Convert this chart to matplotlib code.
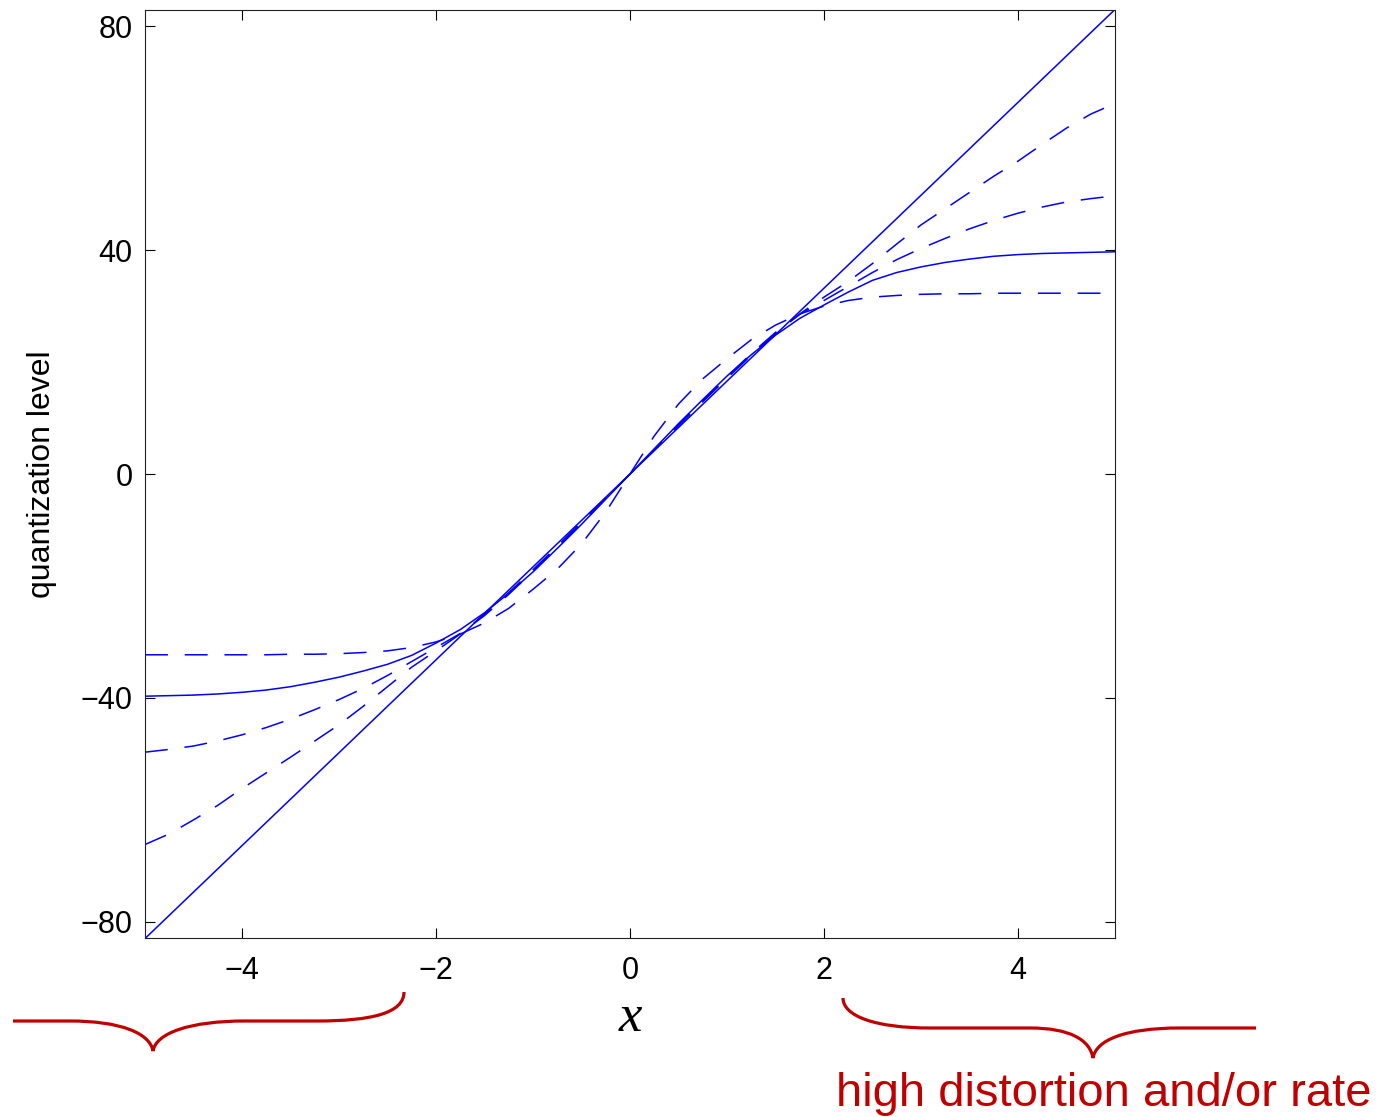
import numpy as np
import matplotlib.pyplot as plt
from matplotlib.path import Path
from matplotlib.patches import PathPatch

plt.rcParams['font.family'] = ['Liberation Sans', 'DejaVu Sans']

# --- 数据：量化电平曲线 ---
x_grid = [-5.0, -4.75, -4.5, -4.25, -4.0, -3.75, -3.5, -3.25, -3.0, -2.75,
          -2.5, -2.25, -2.0, -1.75, -1.5, -1.25, -1.0, -0.75, -0.5, -0.25,
          0.0, 0.25, 0.5, 0.75, 1.0, 1.25, 1.5, 1.75, 2.0, 2.25,
          2.5, 2.75, 3.0, 3.25, 3.5, 3.75, 4.0, 4.25, 4.5, 4.75, 5.0]

# 直线 (均匀量化)
line_x = [-5.0, 5.0]
line_y = [-83.0, 83.0]

# 虚线，饱和于 ~66
level_66 = [-66.2, -64.3, -61.8, -59.2, -56.2, -53.4, -50.6, -47.7, -44.8, -41.5,
            -38.0, -34.5, -31.6, -28.6, -25.1, -21.2, -17.1, -12.9, -8.6, -4.3,
            0.0, 4.3, 8.6, 12.9, 17.1, 21.2, 25.1, 28.6, 31.6, 34.4,
            37.6, 41.1, 44.5, 47.4, 50.3, 53.2, 55.9, 58.9, 61.8, 64.3, 66.2]

# 虚线，饱和于 ~50
level_50 = [-49.7, -49.2, -48.6, -47.7, -46.6, -45.3, -43.8, -42.1, -40.3, -38.3,
            -36.0, -33.5, -31.0, -28.5, -25.3, -21.5, -17.4, -13.1, -8.8, -4.4,
            0.0, 4.4, 8.8, 13.1, 17.4, 21.5, 25.3, 28.5, 31.0, 33.5,
            36.0, 38.3, 40.3, 42.1, 43.8, 45.3, 46.6, 47.7, 48.6, 49.2, 49.7]

# 实线，饱和于 ~40
level_40 = [-39.7, -39.6, -39.5, -39.3, -39.0, -38.6, -38.0, -37.2, -36.3, -35.2,
            -34.0, -32.4, -30.2, -27.8, -24.8, -21.3, -17.5, -13.3, -9.0, -4.5,
            0.0, 4.5, 9.0, 13.3, 17.5, 21.3, 24.8, 27.8, 30.2, 32.5,
            34.6, 36.0, 37.0, 37.8, 38.4, 38.9, 39.2, 39.4, 39.5, 39.6, 39.7]

# 虚线，饱和于 ~32
level_32 = [-32.3, -32.3, -32.3, -32.3, -32.3, -32.3, -32.2, -32.2, -32.1, -31.9,
            -31.6, -31.0, -30.0, -28.6, -26.6, -24.0, -20.6, -17.0, -12.5, -6.8,
            0.0, 6.8, 12.5, 17.0, 20.6, 24.0, 26.6, 28.6, 30.0, 31.0,
            31.6, 31.9, 32.1, 32.2, 32.2, 32.3, 32.3, 32.3, 32.3, 32.3, 32.3]

x_ticks = [-4, -2, 0, 2, 4]
y_ticks = [-80, -40, 0, 40, 80]

W, H = 1379, 1117
fig = plt.figure(figsize=(W / 100, H / 100), dpi=100)
ax = fig.add_axes([145 / W, 1 - 938 / H, 970 / W, 928 / H])

blue = '#0000ff'
dash = (0, (15, 11))
ax.plot(line_x, line_y, color=blue, lw=1.1)
ax.plot(x_grid, level_66, color=blue, lw=1.1, linestyle=dash)
ax.plot(x_grid, level_50, color=blue, lw=1.1, linestyle=dash)
ax.plot(x_grid, level_40, color=blue, lw=1.1)
ax.plot(x_grid, level_32, color=blue, lw=1.1, linestyle=dash)

ax.set_xlim(-5, 5)
ax.set_ylim(-82.9, 82.9)
ax.set_xticks(x_ticks)
ax.set_yticks(y_ticks)
ax.tick_params(direction='in', length=7.5, width=0.8, labelsize=22,
               top=True, right=True, colors='black')
ax.tick_params(axis='x', pad=13)
ax.tick_params(axis='y', pad=9)
for sp in ax.spines.values():
    sp.set_linewidth(0.8)
    sp.set_color('#222222')

ax.set_ylabel('quantization level', fontsize=23)
ax.yaxis.set_label_coords((57 - 145) / 970, 0.5)
ax.set_xlabel('x', fontsize=38, family='Liberation Serif', style='italic', labelpad=0)
ax.xaxis.set_label_coords(0.5, -(994 - 938) / 928)

# --- 红色大括号与注释 (像素坐标覆盖层) ---
over = fig.add_axes([0, 0, 1, 1], zorder=-1)
over.set_xlim(0, W)
over.set_ylim(H, 0)
over.axis('off')

red = '#c00000'
M, L, C = Path.MOVETO, Path.LINETO, Path.CURVE4
left_brace = Path(
    [(13, 1021), (70, 1021),
     (120, 1021), (150, 1033), (153, 1051),
     (156, 1033), (190, 1021), (245, 1021),
     (317, 1021),
     (372, 1021), (404, 1013), (404, 992)],
    [M, L, C, C, C, C, C, C, L, C, C, C])
right_brace = Path(
    [(843, 998),
     (843, 1016), (875, 1028), (930, 1028),
     (1030, 1028),
     (1070, 1028), (1090, 1040), (1093, 1058),
     (1096, 1040), (1125, 1028), (1180, 1028),
     (1256, 1028)],
    [M, C, C, C, L, C, C, C, C, C, C, L])
for p in (left_brace, right_brace):
    over.add_patch(PathPatch(p, facecolor='none', edgecolor=red, lw=2.3))

over.text(1372, 1094, 'high distortion and/or rate', color=red, fontsize=34,
          ha='right', va='center')

fig.savefig('out.png', dpi=100)
